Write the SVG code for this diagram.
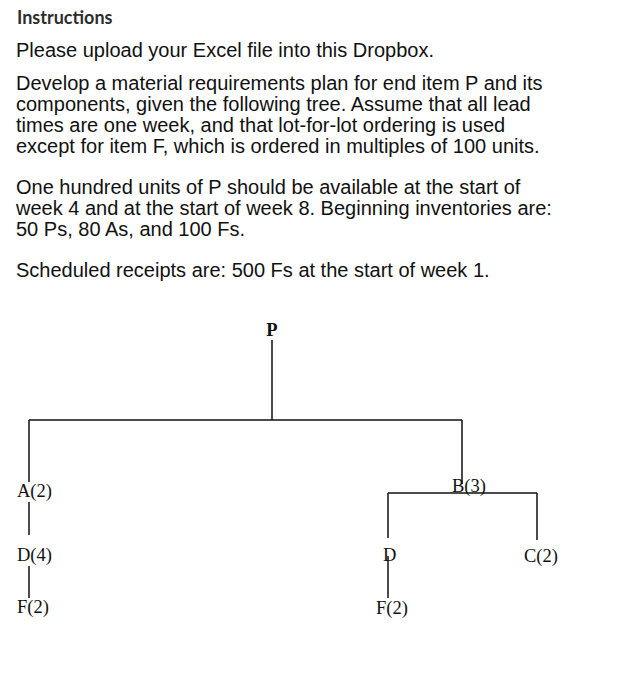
<svg xmlns="http://www.w3.org/2000/svg" width="635" height="700" viewBox="0 0 635 700">
<style>
.h{font-family:Lato,"Liberation Sans",sans-serif;font-weight:bold;font-size:18px;fill:#2d2d2d}
.b{font-family:"Liberation Sans",Arial,sans-serif;font-size:20px;fill:#111}
.t{font-family:"Liberation Serif","Times New Roman",serif;font-size:18.5px;fill:#111}
.e{stroke:#111;stroke-width:1.5;fill:none}
</style>
<rect width="635" height="700" fill="#fff"/>
<text class="h" x="17" y="24">Instructions</text>
<text class="b" x="16" y="57">Please upload your Excel file into this Dropbox.</text>
<text class="b" x="16" y="90">Develop a material requirements plan for end item P and its</text>
<text class="b" x="16" y="111">components, given the following tree. Assume that all lead</text>
<text class="b" x="16" y="132">times are one week, and that lot-for-lot ordering is used</text>
<text class="b" x="16" y="153">except for item F, which is ordered in multiples of 100 units.</text>
<text class="b" x="16" y="194">One hundred units of P should be available at the start of</text>
<text class="b" x="16" y="215">week 4 and at the start of week 8. Beginning inventories are:</text>
<text class="b" x="16" y="236">50 Ps, 80 As, and 100 Fs.</text>
<text class="b" x="16" y="277">Scheduled receipts are: 500 Fs at the start of week 1.</text>
<g id="connectors">
<path class="e" d="M272 340V420M29 420H462M29 420V482M462 420V484M29 502V535M29 566V598M388 493H537M388 493V538M537 493V540M388 556V598"/>
</g>
<g id="P"><text class="t" x="272" y="336" text-anchor="middle" font-weight="bold">P</text></g>
<g id="A"><text class="t" x="17" y="497">A(2)</text></g>
<g id="D1"><text class="t" x="17" y="561">D(4)</text></g>
<g id="F1"><text class="t" x="17" y="613">F(2)</text></g>
<g id="B"><text class="t" x="452" y="492">B(3)</text></g>
<g id="D2"><text class="t" x="383" y="561">D</text></g>
<g id="C"><text class="t" x="524" y="562">C(2)</text></g>
<g id="F2"><text class="t" x="376" y="614">F(2)</text></g>
</svg>
